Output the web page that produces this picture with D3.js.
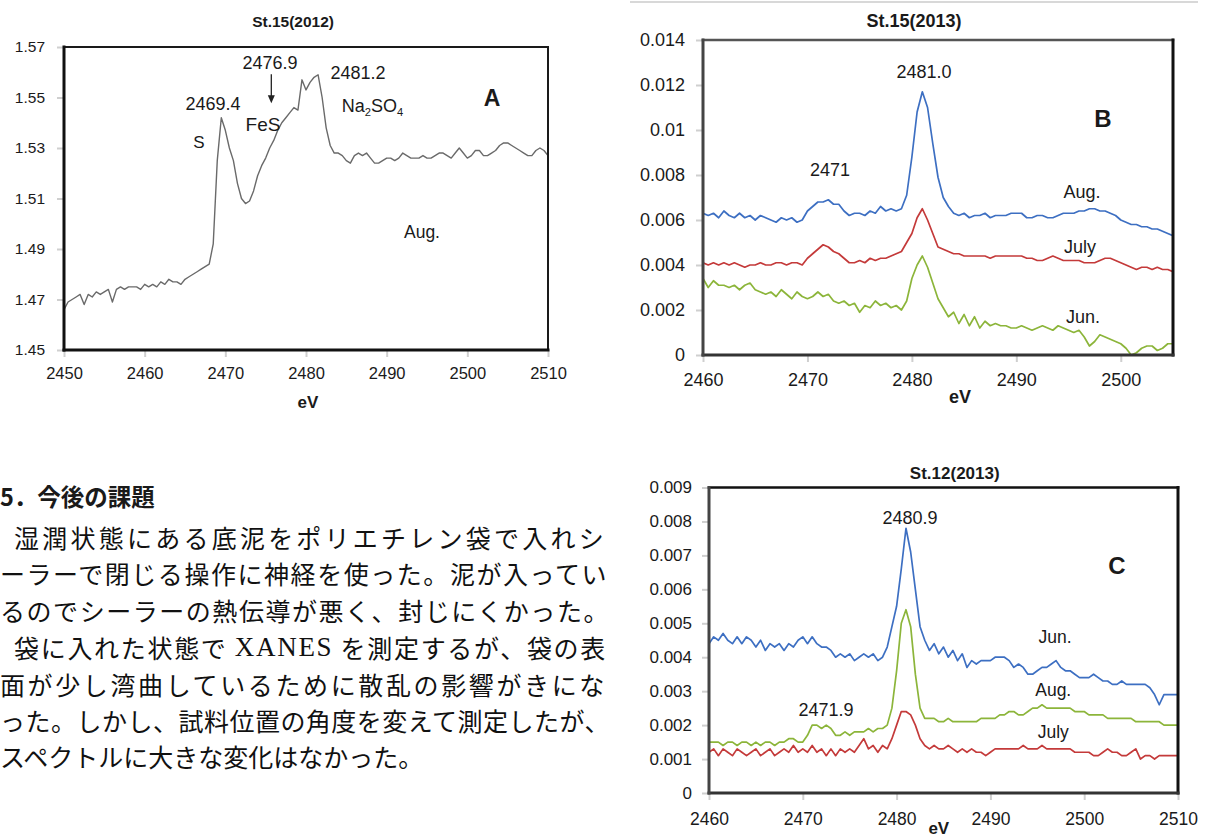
<!DOCTYPE html>
<html>
<head>
<meta charset="utf-8">
<script src="https://cdn.jsdelivr.net/npm/d3@7"></script>
<style>
  body { margin: 0; background: #fff; overflow: hidden; }
  text { font-family: "Liberation Sans", Arial, sans-serif; fill: #1a1a1a; }
</style>
</head>
<body>
<svg id="fig" width="1208" height="838"></svg>
<script>

// ---------- data ----------

// panel A : St.15(2012), 2450-2510 eV every 0.5 eV
var energyA = d3.range(2450, 2510.001, 0.5);
var augA = [
  1.466,1.469,1.470,1.471,1.472,1.468,1.472,1.471,1.473,1.472,  // 2450
  1.473,1.474,1.469,1.474,1.475,1.474,1.475,1.475,1.475,1.474,  // 2455
  1.476,1.475,1.476,1.475,1.477,1.476,1.478,1.477,1.477,1.476,  // 2460
  1.478,1.479,1.480,1.481,1.482,1.483,1.484,1.492,1.525,1.542,  // 2465
  1.537,1.530,1.525,1.516,1.510,1.508,1.509,1.513,1.519,1.523,  // 2470
  1.526,1.530,1.533,1.537,1.540,1.542,1.544,1.546,1.545,1.557,  // 2475
  1.553,1.556,1.558,1.559,1.550,1.538,1.531,1.528,1.528,1.527,  // 2480
  1.525,1.524,1.527,1.528,1.527,1.528,1.526,1.524,1.524,1.525,  // 2485
  1.526,1.526,1.525,1.526,1.528,1.527,1.526,1.526,1.526,1.527,  // 2490
  1.526,1.526,1.527,1.528,1.528,1.527,1.526,1.528,1.530,1.528,  // 2495
  1.526,1.527,1.529,1.529,1.527,1.527,1.528,1.529,1.531,1.532,  // 2500
  1.532,1.531,1.530,1.529,1.528,1.527,1.527,1.529,1.530,1.529,  // 2505
  1.527
];
var xTicksA = [2450, 2460, 2470, 2480, 2490, 2500, 2510];
var xLabelsA = ["2450", "2460", "2470", "2480", "2490", "2500", "2510"];
var yTicksA = [1.45, 1.47, 1.49, 1.51, 1.53, 1.55, 1.57];
var yLabelsA = ["1.45", "1.47", "1.49", "1.51", "1.53", "1.55", "1.57"];

// panel B : St.15(2013), 2460-2505 eV every 0.5 eV
var energyB = d3.range(2460, 2505.001, 0.5);
var augB = [
  .0063,.0062,.0063,.0061,.0064,.0062,.0061,.0063,.0061,.0062,
  .0060,.0062,.0061,.0060,.0059,.0061,.0060,.0061,.0059,.0060,
  .0064,.0066,.0068,.0068,.0069,.0067,.0067,.0064,.0062,.0063,
  .0063,.0062,.0064,.0063,.0066,.0064,.0065,.0064,.0065,.0071,
  .0088,.0108,.0117,.0110,.0094,.0079,.0070,.0066,.0063,.0062,
  .0063,.0061,.0062,.0062,.0063,.0061,.0062,.0062,.0062,.0063,
  .0063,.0063,.0061,.0061,.0062,.0062,.0061,.0061,.0062,.0063,
  .0063,.0063,.0064,.0064,.0065,.0065,.0064,.0064,.0063,.0062,
  .0060,.0059,.0058,.0058,.0057,.0057,.0056,.0056,.0055,.0054,
  .0053
];
var julyB = [
  .0041,.0040,.0041,.0040,.0041,.0040,.0041,.0040,.0039,.0040,
  .0040,.0041,.0040,.0040,.0041,.0041,.0040,.0041,.0041,.0040,
  .0043,.0045,.0047,.0049,.0048,.0046,.0045,.0043,.0041,.0041,
  .0042,.0041,.0043,.0042,.0043,.0043,.0044,.0045,.0046,.0050,
  .0054,.0061,.0065,.0060,.0054,.0048,.0047,.0046,.0045,.0045,
  .0044,.0044,.0044,.0044,.0044,.0043,.0044,.0044,.0044,.0044,
  .0044,.0044,.0043,.0043,.0042,.0042,.0043,.0044,.0043,.0042,
  .0042,.0042,.0042,.0041,.0041,.0041,.0042,.0043,.0043,.0042,
  .0041,.0040,.0039,.0038,.0039,.0039,.0038,.0039,.0038,.0038,
  .0037
];
var junB = [
  .0034,.0030,.0033,.0031,.0031,.0030,.0031,.0029,.0031,.0032,
  .0029,.0028,.0027,.0028,.0026,.0029,.0027,.0025,.0028,.0026,
  .0025,.0026,.0028,.0026,.0027,.0024,.0023,.0024,.0022,.0023,
  .0019,.0022,.0021,.0024,.0022,.0023,.0021,.0022,.0020,.0024,
  .0034,.0040,.0044,.0039,.0032,.0025,.0021,.0017,.0019,.0014,
  .0018,.0013,.0017,.0012,.0015,.0013,.0014,.0013,.0013,.0012,
  .0012,.0013,.0012,.0011,.0012,.0013,.0012,.0011,.0013,.0012,
  .0011,.0010,.0011,.0008,.0004,.0006,.0009,.0008,.0007,.0006,
  .0005,.0003,.0000,.0001,.0003,.0004,.0004,.0002,.0003,.0005,
  .0005
];
var xTicksB = [2460, 2470, 2480, 2490, 2500];
var xLabelsB = ["2460", "2470", "2480", "2490", "2500"];
var yTicksB = [0, 0.002, 0.004, 0.006, 0.008, 0.01, 0.012, 0.014];
var yLabelsB = ["0", "0.002", "0.004", "0.006", "0.008", "0.01", "0.012", "0.014"];

// panel C : St.12(2013), 2460-2510 eV every 0.5 eV
var energyC = d3.range(2460, 2510.001, 0.5);
var junC = [
  .0044,.0046,.0045,.0047,.0045,.0044,.0046,.0044,.0046,.0045,
  .0043,.0045,.0042,.0044,.0043,.0044,.0042,.0044,.0043,.0045,
  .0046,.0044,.0046,.0044,.0043,.0043,.0042,.0040,.0041,.0040,
  .0041,.0039,.0040,.0041,.0040,.0041,.0039,.0040,.0043,.0049,
  .0055,.0066,.0078,.0071,.0060,.0049,.0045,.0042,.0044,.0041,
  .0043,.0040,.0042,.0039,.0041,.0037,.0039,.0038,.0039,.0039,
  .0039,.0040,.0040,.0040,.0039,.0037,.0038,.0037,.0035,.0035,
  .0036,.0037,.0037,.0038,.0039,.0037,.0036,.0036,.0035,.0034,
  .0034,.0034,.0035,.0034,.0033,.0033,.0032,.0032,.0033,.0032,
  .0032,.0032,.0032,.0032,.0031,.0029,.0026,.0029,.0029,.0029,
  .0029
];
var augC = [
  .0015,.0015,.0015,.0014,.0015,.0015,.0014,.0015,.0015,.0014,
  .0015,.0014,.0015,.0015,.0014,.0015,.0015,.0016,.0016,.0015,
  .0015,.0017,.0020,.0020,.0019,.0020,.0019,.0017,.0017,.0018,
  .0017,.0018,.0018,.0018,.0019,.0018,.0019,.0019,.0020,.0025,
  .0036,.0050,.0054,.0049,.0035,.0025,.0022,.0022,.0022,.0021,
  .0021,.0022,.0021,.0021,.0021,.0021,.0021,.0021,.0022,.0022,
  .0022,.0022,.0023,.0023,.0024,.0024,.0023,.0023,.0024,.0025,
  .0025,.0026,.0025,.0025,.0025,.0025,.0025,.0025,.0024,.0024,
  .0024,.0023,.0023,.0023,.0023,.0022,.0022,.0022,.0022,.0022,
  .0022,.0021,.0021,.0021,.0021,.0021,.0021,.0020,.0020,.0020,
  .0020
];
var julyC = [
  .0012,.0013,.0011,.0013,.0012,.0011,.0013,.0012,.0011,.0012,
  .0013,.0011,.0012,.0013,.0011,.0012,.0013,.0012,.0014,.0012,
  .0013,.0012,.0014,.0012,.0013,.0011,.0013,.0011,.0013,.0012,
  .0013,.0012,.0014,.0016,.0013,.0014,.0012,.0014,.0013,.0016,
  .0020,.0024,.0024,.0023,.0020,.0016,.0014,.0013,.0014,.0013,
  .0013,.0014,.0013,.0012,.0013,.0012,.0013,.0012,.0012,.0011,
  .0012,.0013,.0013,.0013,.0013,.0013,.0013,.0014,.0013,.0013,
  .0013,.0014,.0013,.0013,.0013,.0013,.0013,.0013,.0012,.0012,
  .0012,.0012,.0011,.0011,.0012,.0013,.0012,.0012,.0011,.0011,
  .0012,.0013,.0010,.0011,.0011,.0010,.0011,.0011,.0011,.0011,
  .0011
];
var xTicksC = [2460, 2470, 2480, 2490, 2500, 2510];
var xLabelsC = ["2460", "2470", "2480", "2490", "2500", "2510"];
var yTicksC = [0, 0.001, 0.002, 0.003, 0.004, 0.005, 0.006, 0.007, 0.008, 0.009];
var yLabelsC = ["0", "0.001", "0.002", "0.003", "0.004", "0.005", "0.006", "0.007", "0.008", "0.009"];

// text column on the left
var headingText = "5．今後の課題";
var bodyLines = [
  ["湿潤状態にある底泥をポリエチレン袋で入れシ"],
  ["ーラーで閉じる操作に神経を使った。泥が入ってい"],
  ["るのでシーラーの熱伝導が悪く、封じにくかった。"],
  ["袋に入れた状態で ", "XANES", " を測定するが、袋の表"],
  ["面が少し湾曲しているために散乱の影響がきにな"],
  ["った。しかし、試料位置の角度を変えて測定したが、"],
  ["スペクトルに大きな変化はなかった。"]
];

var BLUE = "#3d6fc2", RED = "#c43a3a", GREEN = "#8cb53a", GREY = "#6a6a6a";

// ---------- drawing ----------

var fig = d3.select("#fig");

function styleAxis(ax, size) {
  ax.select(".domain").remove();
  ax.selectAll(".tick line").attr("stroke", "#cfcfcf").attr("stroke-width", 2);
  ax.selectAll(".tick text").style("font-size", size + "px");
}

function drawPanel(p) {
  var b = p.box;
  var x = d3.scaleLinear().domain(p.xDomain).range([b.left, b.right]);
  var y = d3.scaleLinear().domain(p.yDomain).range([b.bottom, b.top]);
  var g = fig.append("g").attr("id", "panel" + p.id);

  g.append("clipPath").attr("id", "clip" + p.id)
    .append("rect")
    .attr("x", b.left).attr("y", b.top)
    .attr("width", b.right - b.left).attr("height", b.bottom - b.top);

  var yAx = g.append("g")
    .attr("transform", "translate(" + b.left + ",0)")
    .call(d3.axisLeft(y).tickValues(p.yTicks).tickFormat((d, i) => p.yLabels[i])
      .tickSize(7).tickPadding(p.yPad));
  styleAxis(yAx, p.yFont);

  var xAx = g.append("g")
    .attr("transform", "translate(0," + b.bottom + ")")
    .call(d3.axisBottom(x).tickValues(p.xTicks).tickFormat((d, i) => p.xLabels[i])
      .tickSize(7).tickPadding(p.xPad));
  styleAxis(xAx, p.xFont);

  p.series.forEach(s => {
    var line = d3.line()
      .x((d, i) => x(s.energy[i]))
      .y(d => y(d));
    g.append("path")
      .datum(s.values)
      .attr("d", line)
      .attr("fill", "none")
      .attr("stroke", s.color)
      .attr("stroke-width", s.width)
      .attr("stroke-linejoin", "round")
      .attr("clip-path", "url(#clip" + p.id + ")");
  });

  // plot frame, sides drawn separately since their weights differ
  var f = p.frame;
  var sides = [
    [b.left, b.top, b.right, b.top, f.top],
    [b.right, b.top, b.right, b.bottom, f.right],
    [b.left, b.bottom, b.right, b.bottom, f.bottom],
    [b.left, b.top, b.left, b.bottom, f.left]
  ];
  g.selectAll("line.frame").data(sides).enter().append("line")
    .attr("class", "frame")
    .attr("x1", d => d[0]).attr("y1", d => d[1])
    .attr("x2", d => d[2]).attr("y2", d => d[3])
    .attr("stroke", d => d[4][1])
    .attr("stroke-width", d => d[4][0])
    .attr("stroke-linecap", "square");

  // labels placed in data units
  p.notes.forEach(n => {
    var t = g.append("text")
      .attr("x", x(n.ev)).attr("y", y(n.v))
      .attr("text-anchor", n.anchor || "middle")
      .attr("dominant-baseline", "central")
      .style("font-size", n.size + "px")
      .style("font-weight", n.bold ? "bold" : "normal");
    if (n.parts) {
      n.parts.forEach(pt => {
        var ts = t.append("tspan").text(pt[0]);
        if (pt[1]) ts.attr("baseline-shift", "sub").style("font-size", (n.size * 0.62) + "px");
      });
    } else {
      t.text(n.t);
    }
  });

  if (p.arrow) {
    var a = p.arrow, ax = x(a.ev), y1 = y(a.from), y2 = y(a.to);
    g.append("line").attr("x1", ax).attr("x2", ax).attr("y1", y1).attr("y2", y2 - 6)
      .attr("stroke", "#222").attr("stroke-width", 1.3);
    g.append("path")
      .attr("d", "M" + (ax - 3.5) + "," + (y2 - 8) + "L" + ax + "," + y2 + "L" + (ax + 3.5) + "," + (y2 - 8) + "Z")
      .attr("fill", "#222");
  }
}

drawPanel({
  id: "A",
  box: { left: 64, right: 548, top: 47, bottom: 350 },
  xDomain: [2450, 2510], yDomain: [1.45, 1.57],
  xTicks: xTicksA, xLabels: xLabelsA, yTicks: yTicksA, yLabels: yLabelsA,
  xFont: 16.5, yFont: 15.5, xPad: 10, yPad: 12,
  frame: { top: [2, "#1a1a1a"], right: [2, "#1a1a1a"], bottom: [3, "#111"], left: [3, "#111"] },
  series: [{ energy: energyA, values: augA, color: GREY, width: 1.4 }],
  notes: [
    { t: "St.15(2012)", ev: 2478.4, v: 1.5802, size: 15.5, bold: true },
    { t: "2476.9", ev: 2475.54, v: 1.5638, size: 18 },
    { t: "2469.4", ev: 2468.47, v: 1.5473, size: 18 },
    { t: "S", ev: 2466.73, v: 1.5323, size: 17 },
    { t: "FeS", ev: 2474.67, v: 1.5394, size: 19 },
    { t: "2481.2", ev: 2486.45, v: 1.5596, size: 18 },
    { parts: [["Na"], ["2", 1], ["SO"], ["4", 1]], ev: 2484.42, v: 1.5465, size: 18, anchor: "start" },
    { t: "A", ev: 2503.06, v: 1.5497, size: 23, bold: true },
    { t: "Aug.", ev: 2494.38, v: 1.4967, size: 17.5 },
    { t: "eV", ev: 2480.25, v: 1.4294, size: 17, bold: true }
  ],
  arrow: { ev: 2475.7, from: 1.5592, to: 1.5477 }
});

drawPanel({
  id: "B",
  box: { left: 703, right: 1173, top: 40, bottom: 355 },
  xDomain: [2460, 2505], yDomain: [0, 0.014],
  xTicks: xTicksB, xLabels: xLabelsB, yTicks: yTicksB, yLabels: yLabelsB,
  xFont: 18, yFont: 18, xPad: 11, yPad: 11,
  frame: { top: [2.5, "#555"], right: [3, "#111"], bottom: [3, "#333"], left: [3, "#444"] },
  series: [
    { energy: energyB, values: augB, color: BLUE, width: 1.7 },
    { energy: energyB, values: julyB, color: RED, width: 1.7 },
    { energy: energyB, values: junB, color: GREEN, width: 1.7 }
  ],
  notes: [
    { t: "St.15(2013)", ev: 2480.2, v: 0.01484, size: 18, bold: true },
    { t: "2471", ev: 2472.16, v: 0.00822, size: 18 },
    { t: "2481.0", ev: 2481.16, v: 0.01256, size: 18 },
    { t: "B", ev: 2498.3, v: 0.01049, size: 24, bold: true },
    { t: "Aug.", ev: 2496.29, v: 0.00724, size: 18 },
    { t: "July", ev: 2496.1, v: 0.0048, size: 18 },
    { t: "Jun.", ev: 2496.38, v: 0.00169, size: 18 },
    { t: "eV", ev: 2484.6, v: -0.00187, size: 18, bold: true }
  ]
});

drawPanel({
  id: "C",
  box: { left: 709, right: 1178, top: 487.5, bottom: 793 },
  xDomain: [2460, 2510], yDomain: [0, 0.009],
  xTicks: xTicksC, xLabels: xLabelsC, yTicks: yTicksC, yLabels: yLabelsC,
  xFont: 17.5, yFont: 17, xPad: 13, yPad: 10,
  frame: { top: [2.5, "#111"], right: [3, "#111"], bottom: [3, "#333"], left: [3, "#444"] },
  series: [
    { energy: energyC, values: junC, color: BLUE, width: 1.7 },
    { energy: energyC, values: augC, color: GREEN, width: 1.7 },
    { energy: energyC, values: julyC, color: RED, width: 1.7 }
  ],
  notes: [
    { t: "St.12(2013)", ev: 2486.2, v: 0.0094, size: 17, bold: true },
    { t: "2480.9", ev: 2481.43, v: 0.0081, size: 18 },
    { t: "C", ev: 2503.5, v: 0.00671, size: 24, bold: true },
    { t: "Jun.", ev: 2496.9, v: 0.0046, size: 17.5 },
    { t: "Aug.", ev: 2496.7, v: 0.00303, size: 17.5 },
    { t: "July", ev: 2496.7, v: 0.0018, size: 17.5 },
    { t: "2471.9", ev: 2472.47, v: 0.00245, size: 18 },
    { t: "eV", ev: 2484.5, v: -0.00105, size: 17, bold: true }
  ]
});

// thin rule above panel B
fig.append("line")
  .attr("x1", 630).attr("x2", 1198).attr("y1", 2).attr("y2", 2)
  .attr("stroke", "#d8d8d8").attr("stroke-width", 2);

// ---------- text column ----------
var JP = "'Noto Sans CJK JP', 'Noto Sans CJK SC', sans-serif";

fig.append("text")
  .attr("x", 0).attr("y", 496)
  .attr("dominant-baseline", "central")
  .style("font-family", JP).style("font-weight", "bold").style("font-size", "23.5px")
  .text(headingText);

var lineStarts = [14, 0, 0, 14, 0, 0, 0];
var lineEnds = [607, 608, 610, 607, 607, 610, null];
var lineY = [537, 573, 610, 647, 684, 720, 756];

bodyLines.forEach((segs, i) => {
  var t = fig.append("text")
    .attr("x", lineStarts[i]).attr("y", lineY[i])
    .attr("dominant-baseline", "central")
    .style("font-family", JP).style("font-size", "25px").style("fill", "#111");
  segs.forEach(s => {
    var ts = t.append("tspan").text(s);
    if (s === "XANES") ts.style("font-family", "'Liberation Serif', serif").style("font-size", "27px");
  });
  // justify like the printed column
  if (lineEnds[i] !== null) {
    var n = segs.join("").length;
    var w = t.node().getComputedTextLength();
    var extra = (lineEnds[i] - lineStarts[i] - w) / n;
    t.style("letter-spacing", extra + "px");
  }
});

</script>
</body>
</html>
